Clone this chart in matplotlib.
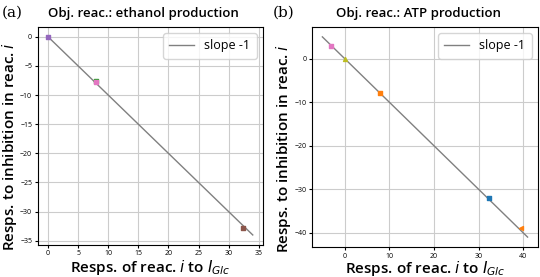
import matplotlib
matplotlib.use("Agg")
import matplotlib.pyplot as plt
import numpy as np

# panel (a): ethanol production
a_x = [0, 8.0, 8.0, 32.3]
a_y = [0, -7.6, -7.7, -32.8]
a_colors = ["#9467bd", "#2ca02c", "#e377c2", "#8c564b"]
a_markers = ["s", "s", "s", "s"]
a_line = [0, 34]

# panel (b): ATP production
b_x = [-3.0, 0.0, 8.0, 32.4, 39.5]
b_y = [3.0, 0.0, -8.0, -32.0, -39.0]
b_colors = ["#e377c2", "#bcbd22", "#ff7f0e", "#1f77b4", "#ff7f0e"]
b_markers = ["s", "^", "s", "s", "<"]
b_line = [-5, 41]

plt.rcParams["font.family"] = ["Open Sans", "DejaVu Sans"]
plt.rcParams["mathtext.fontset"] = "dejavusans"

fig = plt.figure(figsize=(5.4, 2.77), dpi=100)
ax_a = fig.add_axes([0.070, 0.116, 0.417, 0.787])
ax_b = fig.add_axes([0.578, 0.108, 0.418, 0.795])

panels = [
    (ax_a, a_x, a_y, a_colors, a_markers, a_line, "Obj. reac.: ethanol production", -0.062),
    (ax_b, b_x, b_y, b_colors, b_markers, b_line, "Obj. reac.: ATP production", -0.052),
]
for ax, xs, ys, cols, mks, ln, title, xl_y in panels:
    for x, y, c, m in zip(xs, ys, cols, mks):
        ax.scatter(x, y, color=c, marker=m, s=8, zorder=3)
    ax.plot(ln, [-v for v in ln], color="gray", lw=1, label="slope -1", zorder=2)
    ax.grid(True, color="#cccccc", lw=0.8)
    ax.set_axisbelow(True)
    ax.tick_params(labelsize=5, length=2, pad=2)
    ax.set_title(title, fontsize=9.5, fontweight="semibold", pad=7, x=0.47)
    ax.set_xlabel(r"Resps. of reac. $i$ to $I_{Glc}$", fontsize=11, fontweight="semibold")
    ax.set_ylabel(r"Resps. to inhibition in reac. $i$", fontsize=11, fontweight="semibold")
    ax.xaxis.set_label_coords(0.5, xl_y)
    ax.yaxis.set_label_coords(-0.083, 0.45)
    ax.legend(loc="upper right", fontsize=9, borderpad=0.5)

fig.text(0.003, 0.955, "(a)", fontsize=11, family="DejaVu Serif", va="center")
fig.text(0.505, 0.955, "(b)", fontsize=11, family="DejaVu Serif", va="center")

ax_a.set_xticks(np.arange(0, 36, 5))
ax_a.set_yticks(np.arange(-35, 1, 5))
ax_b.set_xticks(np.arange(0, 41, 10))
ax_b.set_yticks(np.arange(-40, 1, 10))

fig.savefig("out.png", dpi=100)
